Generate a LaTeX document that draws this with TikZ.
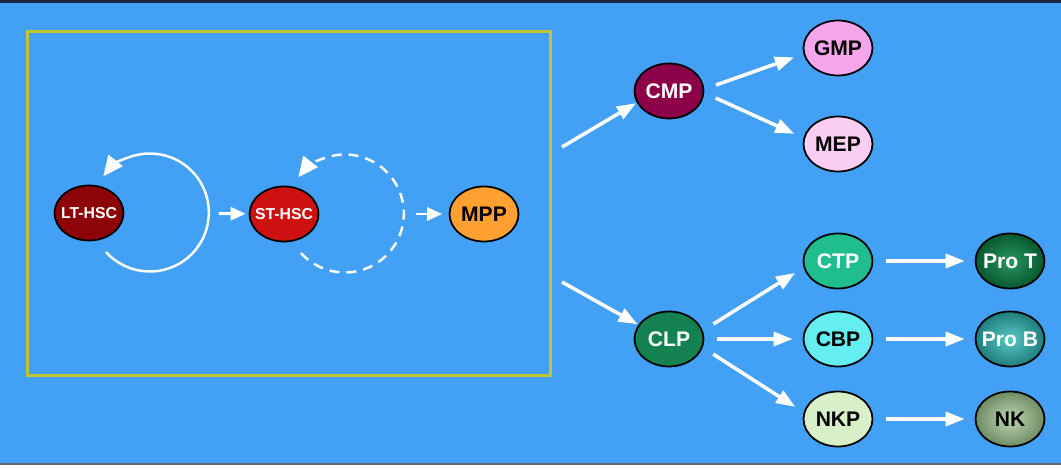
\documentclass[tikz,border=0pt]{standalone}
\usepackage{fontspec}
\setmainfont{Liberation Sans}
\usetikzlibrary{shapes.geometric, arrows.meta, positioning, calc}
\definecolor{bgblue}{RGB}{67,161,245}
\definecolor{boxyellow}{RGB}{196,196,48}
\definecolor{framenavy}{RGB}{30,36,64}
\definecolor{framegray}{RGB}{95,105,115}
\definecolor{ltred}{RGB}{140,4,8}
\definecolor{stred}{RGB}{205,16,16}
\definecolor{mpporange}{RGB}{255,160,48}
\definecolor{cmpplum}{RGB}{140,0,72}
\definecolor{gmppink}{RGB}{245,165,235}
\definecolor{meppink}{RGB}{250,205,242}
\definecolor{clpgreen}{RGB}{20,130,80}
\definecolor{ctpgreen}{RGB}{32,190,140}
\definecolor{cbpcyan}{RGB}{100,238,240}
\definecolor{nkppale}{RGB}{215,240,200}
\definecolor{protdark}{RGB}{8,88,48}
\definecolor{protlight}{RGB}{40,150,95}
\definecolor{probdark}{RGB}{30,125,125}
\definecolor{problight}{RGB}{90,200,195}
\definecolor{nkdark}{RGB}{110,140,100}
\definecolor{nklight}{RGB}{190,215,180}
% label that may run over the ellipse's edge
\newcommand{\celllabel}[1]{\makebox[0pt]{#1}}
\tikzset{
  cell/.style={ellipse, draw=black, line width=1pt,
    minimum width=1.38cm, minimum height=1.1cm, inner sep=0pt,
    font=\bfseries\fontsize{12}{13}\selectfont},
  hsccell/.style={cell, font=\bfseries\fontsize{9}{10}\selectfont, text=white},
  arrow/.style={-{Triangle[length=0.38cm, width=0.28cm]}, line width=2pt,
    color=white, shorten <=0.25cm, shorten >=0.2cm},
  selfloop/.style={-{Triangle[length=0.4cm, width=0.36cm]}, line width=1.4pt,
    color=white}
}
\begin{document}
\begin{tikzpicture}[x=0.02cm, y=0.02cm]
  % Frame and background
  \fill[white] (0,0) rectangle (1061,470);
  \fill[bgblue] (0,6) rectangle (1061,467);
  \fill[framenavy] (0,467) rectangle (1061,470);
  \fill[framegray] (0,5) rectangle (1061,7);
  \useasboundingbox (0,0) rectangle (1061,470);
  % Stem cell compartment
  \node (box) [draw=boxyellow, line width=1.7pt, minimum width=10.48cm,
    minimum height=6.9cm, inner sep=0pt] at (289,266.5) {};
  \node (lt) [hsccell, fill=ltred] at (89,257) {\celllabel{LT-HSC}};
  \node (st) [hsccell, fill=stred] at (284,256) {\celllabel{ST-HSC}};
  \node (mpp) [cell, fill=mpporange] at (484,256) {MPP};
  % Self-renewal loops
  \draw[selfloop] ([shift={(17,-39)}]lt.center)
    arc[start angle=222, end angle=502, radius=59];
  \draw[selfloop, dash pattern=on 0.2cm off 0.14cm] ([shift={(17,-39)}]st.center)
    arc[start angle=222, end angle=502, radius=59];
  \draw[arrow, -{Triangle[length=0.3cm, width=0.26cm]}, line width=1.7pt,
    shorten <=1.89cm, shorten >=0.06cm] (lt) -- (st);
  \draw[arrow, -{Triangle[length=0.3cm, width=0.26cm]}, line width=1.7pt,
    shorten <=1.94cm, shorten >=0.13cm] (st) -- (mpp);
  % Myeloid branch
  \node (cmp) [cell, fill=cmpplum, text=white] at (669,379) {CMP};
  \node (gmp) [cell, fill=gmppink] at (838,422) {GMP};
  \node (mep) [cell, fill=meppink] at (838,326) {MEP};
  % Lymphoid branch
  \node (clp) [cell, fill=clpgreen, text=white] at (669,131) {CLP};
  \node (ctp) [cell, fill=ctpgreen, text=white] at (838,209) {CTP};
  \node (cbp) [cell, fill=cbpcyan] at (838,131) {CBP};
  \node (nkp) [cell, fill=nkppale] at (838,51) {NKP};
  \node (prot) [cell, inner color=protlight, outer color=protdark, text=white]
    at (1010,209) {\celllabel{Pro T}};
  \node (prob) [cell, inner color=problight, outer color=probdark, text=white]
    at (1010,131) {\celllabel{Pro B}};
  \node (nk) [cell, inner color=nklight, outer color=nkdark] at (1010,51) {NK};
  % Connectors
  \coordinate (outcmp) at (562,323);
  \coordinate (outclp) at (562,188);
  \draw[arrow, shorten <=0pt, shorten >=0.02cm] (outcmp) -- (cmp.200);
  \draw[arrow, shorten <=0pt, shorten >=0.02cm] (outclp) -- (clp.155);
  \draw[arrow] (cmp.3) -- (gmp.190);
  \draw[arrow] (cmp.-3) -- (mep.170);
  \draw[arrow] (clp.14) -- (ctp.191);
  \draw[arrow] (clp) -- (cbp);
  \draw[arrow] (clp.-14) -- (nkp.169);
  \draw[arrow] (ctp) -- (prot);
  \draw[arrow] (cbp) -- (prob);
  \draw[arrow] (nkp) -- (nk);
\end{tikzpicture}
\end{document}
